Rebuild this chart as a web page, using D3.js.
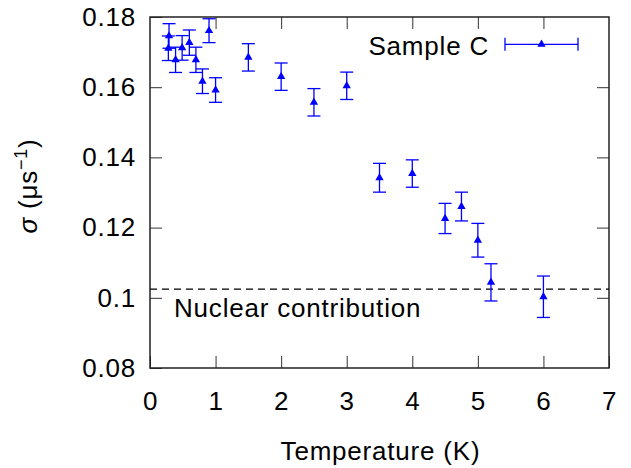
<!DOCTYPE html>
<html>
<head>
<meta charset="utf-8">
<script src="https://cdn.jsdelivr.net/npm/d3@7"></script>
<style>
  html, body { margin: 0; padding: 0; background: #fff; }
  svg { display: block; font-family: "Liberation Sans", Arial, sans-serif; }
  svg text { letter-spacing: 0.8px; }
</style>
</head>
<body>
<svg id="chart" width="631" height="468"></svg>
<script>
// ---- data ----
const temperatures = [0.28, 0.29, 0.39, 0.49, 0.6, 0.7, 0.8, 0.9, 1.0, 1.5, 2.0, 2.5, 3.0, 3.5, 4.0, 4.5, 4.75, 5.0, 5.2, 6.0];
const sigmaValues  = [0.1711, 0.1746, 0.1678, 0.1712, 0.1727, 0.1678, 0.1617, 0.1761, 0.1592, 0.1685, 0.1630, 0.1557, 0.1604, 0.1342, 0.1354, 0.1226, 0.1260, 0.1164, 0.1044, 0.1003];
const sigmaErrors  = [0.0035, 0.0035, 0.0036, 0.0035, 0.0036, 0.0036, 0.0035, 0.0034, 0.0035, 0.0039, 0.0039, 0.0039, 0.0039, 0.0041, 0.0039, 0.0043, 0.0041, 0.0048, 0.0053, 0.0059];
const nuclearContribution = 0.1025;
const xTicks = [0, 1, 2, 3, 4, 5, 6, 7];
const yTicks = [0.08, 0.10, 0.12, 0.14, 0.16, 0.18];
const xTickLabels = ["0", "1", "2", "3", "4", "5", "6", "7"];
const yTickLabels = ["0.08", "0.1", "0.12", "0.14", "0.16", "0.18"];
const seriesName = "Sample C";
const xTitle = "Temperature (K)";
const nuclearLabel = "Nuclear contribution";

// ---- layout ----
const pL = 150, pR = 609, pT = 17, pB = 368;
const blue = "#0000ff";
const fontSize = 26;

const svg = d3.select("#chart");
const x = d3.scaleLinear().domain([0, 7]).range([pL, pR]);
const y = d3.scaleLinear().domain([0.08, 0.18]).range([pB, pT]);

// axes (inward ticks)
function styleAxis(g, showLabels) {
  g.select(".domain").remove();
  g.selectAll(".tick line").attr("stroke", "#333").attr("stroke-width", 1);
  g.selectAll(".tick text")
    .attr("fill", "#000")
    .style("font-size", fontSize + "px")
    .style("font-family", '"Liberation Sans", Arial, sans-serif');
  if (!showLabels) g.selectAll(".tick text").remove();
}

svg.append("g").attr("transform", `translate(0,${pB})`)
  .call(d3.axisBottom(x).tickValues(xTicks).tickFormat((d, i) => xTickLabels[i]).tickSizeInner(-12).tickSizeOuter(0).tickPadding(24))
  .call(g => styleAxis(g, true));
svg.append("g").attr("transform", `translate(0,${pT})`)
  .call(d3.axisTop(x).tickValues(xTicks.slice(1, -1)).tickSizeInner(-12).tickSizeOuter(0))
  .call(g => styleAxis(g, false));
svg.append("g").attr("transform", `translate(${pL},0)`)
  .call(d3.axisLeft(y).tickValues(yTicks).tickFormat((d, i) => yTickLabels[i]).tickSizeInner(-12).tickSizeOuter(0).tickPadding(14))
  .call(g => styleAxis(g, true));
svg.append("g").attr("transform", `translate(${pR},0)`)
  .call(d3.axisRight(y).tickValues(yTicks.slice(1, -1)).tickSizeInner(-12).tickSizeOuter(0))
  .call(g => styleAxis(g, false));

// frame
svg.append("rect")
  .attr("x", pL).attr("y", pT)
  .attr("width", pR - pL).attr("height", pB - pT)
  .attr("fill", "none").attr("stroke", "#222").attr("stroke-width", 1.5);

// nuclear contribution dashed line
svg.append("line")
  .attr("x1", x(0)).attr("x2", x(7))
  .attr("y1", y(nuclearContribution)).attr("y2", y(nuclearContribution))
  .attr("stroke", "#000").attr("stroke-width", 1.2).attr("stroke-dasharray", "7,5");

svg.append("text")
  .attr("x", 174).attr("y", 317)
  .style("font-size", fontSize + "px")
  .text(nuclearLabel);

// data
const data = temperatures.map((t, i) => ({ t, s: sigmaValues[i], e: sigmaErrors[i] }));
const capW = 6.5;
const gPts = svg.append("g");
const eb = gPts.selectAll("g.eb").data(data).join("g").attr("class", "eb");
eb.append("line")
  .attr("x1", d => x(d.t)).attr("x2", d => x(d.t))
  .attr("y1", d => y(d.s - d.e)).attr("y2", d => y(d.s + d.e))
  .attr("stroke", blue).attr("stroke-width", 1.3);
eb.append("line")
  .attr("x1", d => x(d.t) - capW).attr("x2", d => x(d.t) + capW)
  .attr("y1", d => y(d.s + d.e)).attr("y2", d => y(d.s + d.e))
  .attr("stroke", blue).attr("stroke-width", 1.3);
eb.append("line")
  .attr("x1", d => x(d.t) - capW).attr("x2", d => x(d.t) + capW)
  .attr("y1", d => y(d.s - d.e)).attr("y2", d => y(d.s - d.e))
  .attr("stroke", blue).attr("stroke-width", 1.3);
const tri = d3.symbol().type(d3.symbolTriangle).size(30);
eb.append("path")
  .attr("d", tri)
  .attr("transform", d => `translate(${x(d.t)},${y(d.s)})`)
  .attr("fill", blue);

// legend
const lg = svg.append("g");
lg.append("text")
  .attr("x", 489).attr("y", 55)
  .attr("text-anchor", "end")
  .style("font-size", fontSize + "px")
  .text(seriesName);
const ly = 44.3, lx1 = 505, lx2 = 578;
lg.append("line").attr("x1", lx1).attr("x2", lx2).attr("y1", ly).attr("y2", ly).attr("stroke", blue).attr("stroke-width", 1.3);
lg.append("line").attr("x1", lx1).attr("x2", lx1).attr("y1", ly - 6.5).attr("y2", ly + 6.5).attr("stroke", blue).attr("stroke-width", 1.3);
lg.append("line").attr("x1", lx2).attr("x2", lx2).attr("y1", ly - 6.5).attr("y2", ly + 6.5).attr("stroke", blue).attr("stroke-width", 1.3);
lg.append("path").attr("d", tri).attr("transform", `translate(${(lx1 + lx2) / 2},${ly})`).attr("fill", blue);

// axis titles
svg.append("text")
  .attr("x", (pL + pR) / 2 + 1).attr("y", 460)
  .attr("text-anchor", "middle")
  .style("font-size", fontSize + "px")
  .text(xTitle);

const yt = svg.append("text")
  .attr("transform", "translate(37,186) rotate(-90)")
  .attr("text-anchor", "middle")
  .style("font-size", fontSize + "px");
yt.append("tspan").style("font-style", "italic").text("σ");
yt.append("tspan").text(" (μs");
yt.append("tspan").attr("dy", -10).style("font-size", "18px").text("−1");
yt.append("tspan").attr("dy", 10).text(")");
</script>
</body>
</html>
